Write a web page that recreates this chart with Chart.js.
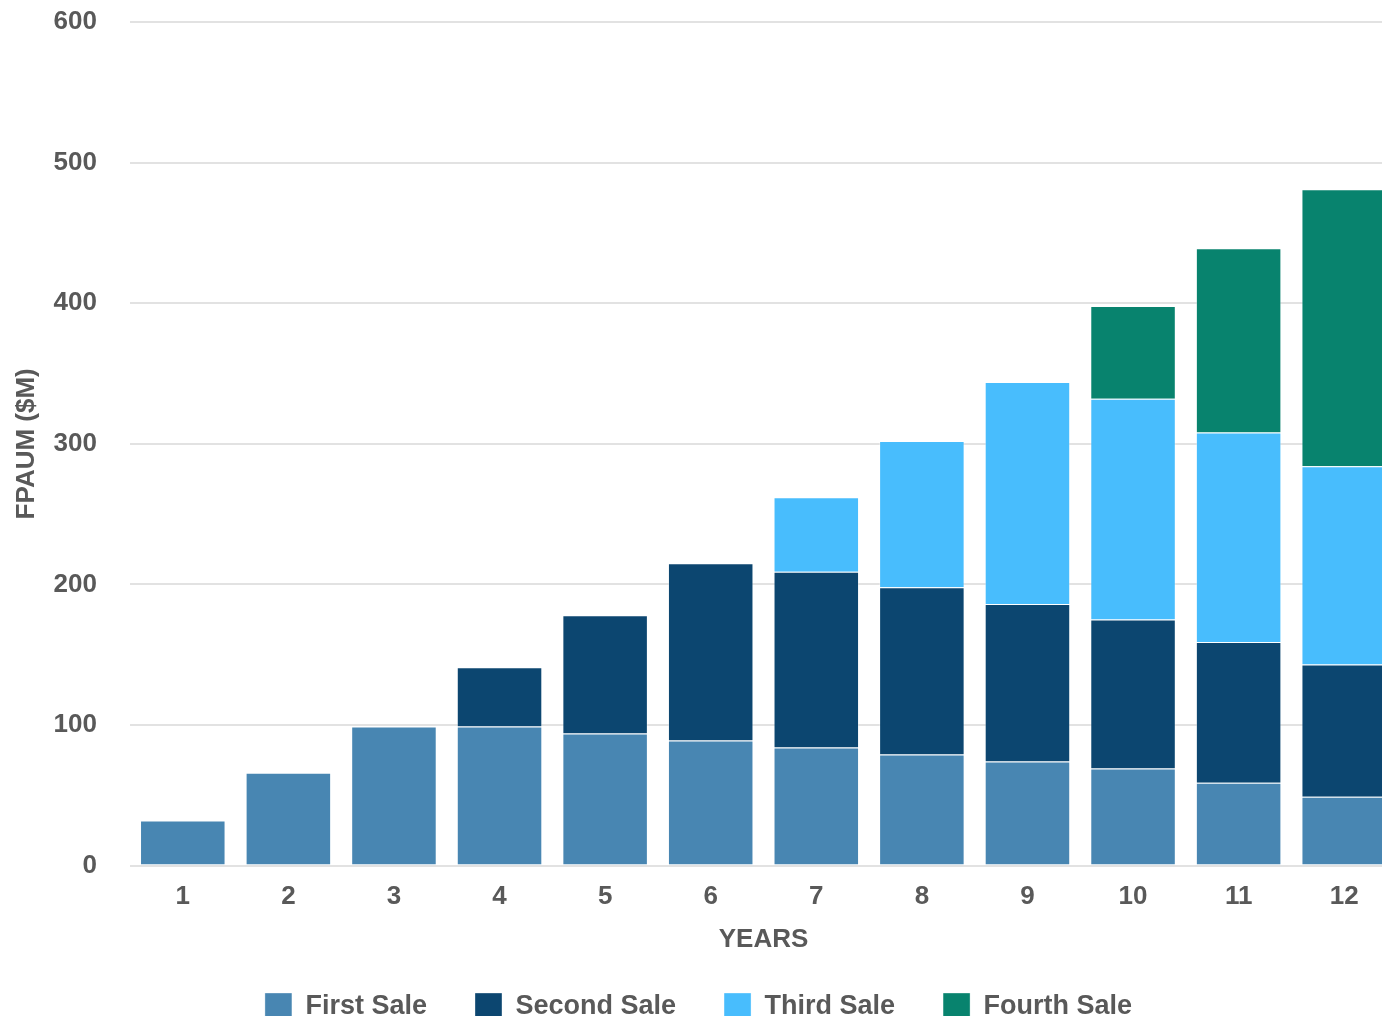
<!DOCTYPE html>
<html>
<head>
<meta charset="utf-8">
<script src="https://cdn.jsdelivr.net/npm/chart.js@4"></script>
<style>
  html, body { margin: 0; padding: 0; background: #fff; overflow: hidden; }
  #wrap { position: relative; width: 1397px; height: 1030px; }
</style>
</head>
<body>
<div id="wrap"><canvas id="fpaum_chart"></canvas></div>
<script>
const years = ['1', '2', '3', '4', '5', '6', '7', '8', '9', '10', '11', '12']
const first_sale = [32, 66, 99, 99, 94, 89, 84, 79, 74, 69, 59, 49]
const second_sale = [null, null, null, 42, 84, 126, 125, 119, 112, 106, 100, 94]
const third_sale = [null, null, null, null, null, null, 53, 104, 158, 157, 149, 141]
const fourth_sale = [null, null, null, null, null, null, null, null, null, 66, 131, 197]

const textColor = '#595959'
const fontFamily = 'Liberation Sans, Arial, sans-serif'
const ctx = document.getElementById('fpaum_chart').getContext('2d')

let makeSet = (label, data, color) => ({
    label: label,
    data: data,
    backgroundColor: color,
    borderColor: 'rgba(255,255,255,0.35)',
    borderWidth: 1,
    barPercentage: 0.81,
    categoryPercentage: 1.0
})

const chart = new Chart(ctx, {
    type: 'bar',
    data: {
        labels: years,
        datasets: [
            makeSet('First Sale', first_sale, '#4886b2'),
            makeSet('Second Sale', second_sale, '#0c4670'),
            makeSet('Third Sale', third_sale, '#48bdfd'),
            makeSet('Fourth Sale', fourth_sale, '#08836e')
        ]
    },
    options: {
        responsive: true,
        maintainAspectRatio: false,
        animation: false,
        layout: { padding: 0 },
        plugins: {
            tooltip: { enabled: false },
            legend: {
                position: 'bottom',
                labels: {
                    color: textColor,
                    font: { family: fontFamily, size: 27, weight: 'bold' },
                    boxWidth: 27,
                    boxHeight: 27,
                    padding: 48
                }
            }
        },
        scales: {
            x: {
                stacked: true,
                grid: { display: false, drawTicks: false },
                border: { display: false },
                ticks: {
                    color: textColor,
                    padding: 16,
                    font: { family: fontFamily, size: 26, weight: 'bold' }
                },
                title: {
                    display: true,
                    text: 'YEARS',
                    color: textColor,
                    padding: { top: -5, bottom: -10 },
                    font: { family: fontFamily, size: 26, weight: 'bold' }
                }
            },
            y: {
                stacked: true,
                min: 0,
                max: 600,
                border: { display: false },
                grid: { color: '#e2e2e2', lineWidth: 2, drawTicks: false },
                ticks: {
                    stepSize: 100,
                    color: textColor,
                    padding: 33,
                    font: { family: fontFamily, size: 26, weight: 'bold' }
                },
                title: {
                    display: true,
                    text: 'FPAUM ($M)',
                    color: textColor,
                    padding: { top: 11, bottom: 0 },
                    font: { family: fontFamily, size: 26, weight: 'bold' }
                },
                afterFit: (scale) => {
                    scale.width = 130
                    scale.paddingTop = 22
                    scale.paddingBottom = 0
                }
            }
        }
    }
})
</script>
</body>
</html>
